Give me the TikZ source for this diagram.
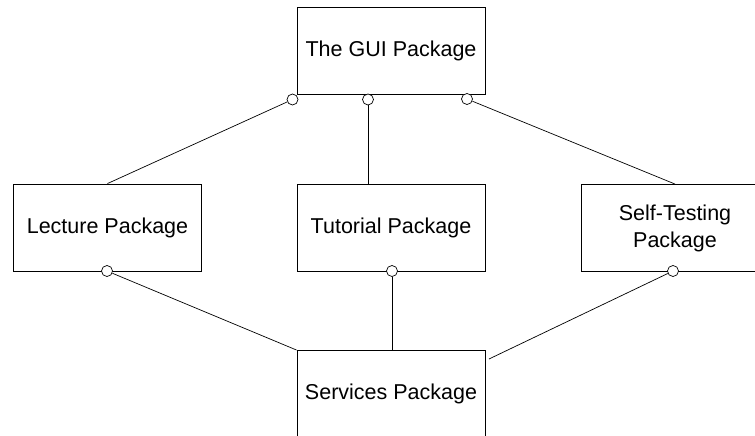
\documentclass[tikz,border=0pt]{standalone}
\usepackage{fontspec}
\setmainfont{Liberation Sans}
\begin{document}
\begin{tikzpicture}[x=1pt,y=-1pt]

      \useasboundingbox (0,0) rectangle (755,436);
      \clip (0,0) rectangle (755,436);

      \begin{scope}[every node/.style={rectangle,draw,line width=0.9pt,
          minimum width=188pt,minimum height=87pt,inner sep=0pt,align=center,
          font=\fontsize{21.5}{27}\selectfont}]
        \node (1) at (391,51)    {The GUI Package};
        \node (2) at (107.5,227.5) {Lecture Package};
        \node (3) at (391,227.5) {Tutorial Package};
        \node (4) at (675,228) {Self-Testing\\Package};
        \node (5) at (391,394)   {Services Package};
      \end{scope}

      \begin{scope}[every node/.style={circle,draw,fill=white,line width=0.7pt,
          minimum size=11pt,inner sep=0pt}]
        \node (6)  at (292.5,99.5) {};
        \node (7)  at (368,99.5)   {};
        \node (8)  at (467,99)     {};
        \node (9)  at (107,271)    {};
        \node (10) at (392,271)    {};
        \node (11) at (673,271)    {};
      \end{scope}

      \coordinate (12) at (489,359);

      \begin{scope}[every edge/.style={draw,line width=0.7pt}]
        \path (6)  edge (2.north);
        \path (7)  edge (7 |- 3.north);
        \path (8)  edge (4.north);
        \path (9)  edge (5.north west);
        \path (10) edge (10 |- 5.north);
        \path (11) edge (12);
      \end{scope}

    \end{tikzpicture}
\end{document}
